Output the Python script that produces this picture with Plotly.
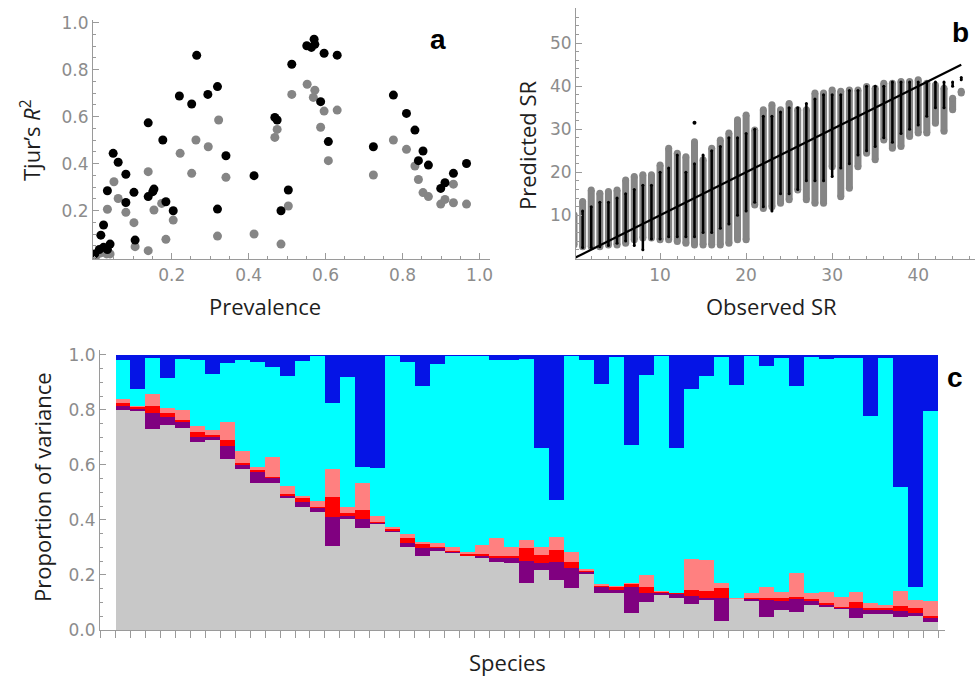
import plotly.graph_objects as go
import numpy as np

# ---------------- Panel a: Tjur's R2 vs prevalence ----------------
a_black_x = [0.0, 0.012, 0.023, 0.033, 0.04, 0.016, 0.023, 0.033, 0.048, 0.061, 0.081, 0.081,
             0.102, 0.105, 0.139, 0.139, 0.151, 0.154, 0.177, 0.185, 0.204, 0.22, 0.252, 0.265,
             0.294, 0.319, 0.319, 0.341, 0.414, 0.468, 0.474, 0.484, 0.503, 0.512, 0.551, 0.57,
             0.572, 0.563, 0.596, 0.63, 0.587, 0.607, 0.724, 0.776, 0.81, 0.832, 0.853, 0.841,
             0.867, 0.899, 0.91, 0.932, 0.966]
a_black_y = [0.016, 0.035, 0.044, 0.035, 0.058, 0.096, 0.139, 0.285, 0.444, 0.406, 0.355, 0.235,
             0.278, 0.075, 0.574, 0.26, 0.281, 0.292, 0.501, 0.238, 0.2, 0.688, 0.654, 0.861,
             0.695, 0.728, 0.207, 0.434, 0.349, 0.597, 0.586, 0.2, 0.288, 0.823, 0.902, 0.93,
             0.908, 0.895, 0.87, 0.862, 0.664, 0.494, 0.472, 0.692, 0.614, 0.543, 0.454, 0.413,
             0.394, 0.295, 0.319, 0.359, 0.401]
a_gray_x = [0.005, 0.014, 0.031, 0.04, 0.033, 0.05, 0.061, 0.081, 0.102, 0.105, 0.139, 0.139,
            0.154, 0.174, 0.185, 0.204, 0.222, 0.252, 0.263, 0.295, 0.322, 0.319, 0.341, 0.414,
            0.468, 0.474, 0.484, 0.503, 0.512, 0.552, 0.572, 0.568, 0.587, 0.596, 0.607, 0.63,
            0.724, 0.776, 0.81, 0.832, 0.841, 0.853, 0.867, 0.899, 0.91, 0.932, 0.932, 0.966]
a_gray_y = [0.011, 0.02, 0.016, 0.016, 0.206, 0.323, 0.252, 0.193, 0.149, 0.047, 0.366, 0.03,
            0.203, 0.231, 0.078, 0.16, 0.444, 0.359, 0.501, 0.472, 0.586, 0.092, 0.342, 0.101,
            0.512, 0.546, 0.058, 0.22, 0.695, 0.738, 0.713, 0.682, 0.555, 0.624, 0.413, 0.628,
            0.352, 0.501, 0.461, 0.39, 0.333, 0.277, 0.26, 0.228, 0.248, 0.313, 0.234, 0.228]
a_xticks = [0.2, 0.4, 0.6, 0.8, 1.0]
a_yticks = [0.2, 0.4, 0.6, 0.8, 1.0]

# ---------------- Panel b: predicted vs observed SR ----------------
b_obs = list(range(0, 46))
b_gray_lo = [3.1, 2.7, 2.7, 2.7, 3.1, 3.1, 3.5, 4.3, 4.7, 4.7, 4.3, 4.3, 3.9, 3.5, 3.1, 3.1,
             3.1, 3.1, 3.5, 4.3, 4.3, 12.4, 11.6, 12.0, 12.8, 13.6, 15.9, 13.6, 12.8, 12.8,
             21.3, 14.3, 16.3, 21.3, 24.4, 22.9, 27.5, 25.6, 26.0, 28.3, 29.1, 29.1, 31.4,
             29.5, 34.5, 38.4]
b_gray_hi = [10.1, 13.2, 15.9, 15.1, 15.5, 15.9, 18.2, 19.0, 19.4, 19.4, 21.7, 25.6, 24.4,
             23.6, 27.1, 22.9, 25.6, 27.5, 29.1, 32.2, 33.3, 29.8, 34.5, 35.7, 34.5, 36.0,
             34.5, 34.5, 38.4, 38.4, 39.1, 38.8, 39.1, 39.1, 39.9, 39.5, 40.7, 40.7, 41.1,
             41.1, 41.5, 40.7, 40.3, 39.5, 37.2, 38.8]
b_black_lo = [2.5, 2.5, 2.5, 2.7, 3.0, 3.5, 4.0, 3.0, 2.0, 4.5, 4.5, 5.0, 5.0, 5.0, 5.0, 6.0,
              6.0, 7.0, 8.0, 10.0, 11.0, 13.0, 12.0, 11.0, 15.0, 15.0, 16.0, 18.0, 18.0, 18.0,
              19.0, 21.0, 22.0, 24.0, 25.0, 26.0, 28.0, 27.0, 29.0, 30.0, 31.0, 33.0, 35.0,
              35.0, 40.0, 41.5]
b_black_hi = [8.0, 11.0, 12.0, 13.0, 13.0, 14.0, 15.0, 16.0, 17.0, 17.0, 20.0, 21.0, 24.0,
              20.0, 22.0, 24.0, 25.0, 26.0, 28.0, 28.0, 29.0, 30.0, 33.0, 33.0, 34.0, 35.0,
              35.0, 36.0, 37.0, 38.0, 38.0, 38.0, 39.0, 39.0, 40.0, 40.0, 40.0, 41.0, 41.0,
              41.0, 41.0, 41.0, 41.0, 41.0, 41.0, 42.0]
b_out_x = [14]
b_out_y = [31.5]
b_line_x = [0, 45]
b_line_y = [0, 45]
b_xticks = [10, 20, 30, 40]
b_yticks = [10, 20, 30, 40, 50]

# ---------------- Panel c: variance partitioning ----------------
# cumulative upper boundaries of each stacked component, per species
c_gray = [0.80, 0.797, 0.73, 0.745, 0.733, 0.682, 0.692, 0.62, 0.584, 0.534, 0.533, 0.481,
          0.448, 0.43, 0.305, 0.405, 0.37, 0.384, 0.355, 0.301, 0.27, 0.288, 0.279, 0.269,
          0.26, 0.248, 0.245, 0.172, 0.218, 0.182, 0.151, 0.203, 0.134, 0.133, 0.061, 0.101,
          0.127, 0.118, 0.095, 0.108, 0.032, 0.112, 0.107, 0.048, 0.073, 0.066, 0.091, 0.083,
          0.075, 0.044, 0.058, 0.058, 0.048, 0.05, 0.03]
c_purple_top = [0.815, 0.805, 0.79, 0.773, 0.755, 0.703, 0.70, 0.669, 0.60, 0.576, 0.553,
                0.487, 0.467, 0.442, 0.412, 0.415, 0.403, 0.388, 0.36, 0.317, 0.297, 0.297,
                0.283, 0.27, 0.269, 0.261, 0.26, 0.252, 0.245, 0.248, 0.226, 0.212, 0.155,
                0.145, 0.155, 0.133, 0.134, 0.13, 0.124, 0.118, 0.115, 0.113, 0.112, 0.108,
                0.104, 0.112, 0.105, 0.092, 0.081, 0.079, 0.073, 0.074, 0.068, 0.062, 0.044]
c_red_top = [0.825, 0.81, 0.813, 0.79, 0.762, 0.721, 0.708, 0.692, 0.606, 0.583, 0.557,
             0.495, 0.479, 0.448, 0.482, 0.427, 0.436, 0.394, 0.368, 0.333, 0.312, 0.301,
             0.289, 0.276, 0.276, 0.269, 0.268, 0.298, 0.272, 0.29, 0.248, 0.216, 0.16,
             0.155, 0.168, 0.158, 0.137, 0.133, 0.145, 0.141, 0.151, 0.114, 0.115, 0.118,
             0.115, 0.121, 0.113, 0.097, 0.085, 0.101, 0.079, 0.08, 0.087, 0.08, 0.05]
c_pink_top = [0.84, 0.815, 0.858, 0.806, 0.80, 0.743, 0.728, 0.757, 0.651, 0.594, 0.63,
              0.524, 0.487, 0.469, 0.584, 0.448, 0.533, 0.414, 0.375, 0.35, 0.321, 0.315,
              0.301, 0.284, 0.309, 0.333, 0.303, 0.327, 0.303, 0.337, 0.284, 0.222, 0.166,
              0.16, 0.17, 0.2, 0.14, 0.135, 0.259, 0.253, 0.172, 0.115, 0.136, 0.155, 0.137,
              0.206, 0.133, 0.137, 0.121, 0.137, 0.10, 0.09, 0.142, 0.11, 0.104]
c_cyan_top = [0.98, 0.876, 0.988, 0.917, 0.985, 0.98, 0.93, 0.972, 0.982, 0.975, 0.958,
              0.924, 0.978, 0.997, 0.827, 0.921, 0.592, 0.588, 0.997, 0.974, 0.888, 0.967,
              0.995, 0.998, 0.995, 0.98, 0.982, 0.985, 0.661, 0.473, 0.997, 0.982, 0.895,
              0.993, 0.674, 0.928, 0.997, 0.661, 0.877, 0.924, 0.994, 0.89, 0.997, 0.959,
              0.988, 0.888, 0.993, 0.985, 0.99, 0.99, 0.778, 0.99, 0.519, 0.158, 0.797]
c_total = 1.0
c_yticks = [0.0, 0.2, 0.4, 0.6, 0.8, 1.0]

# ---------------- figure ----------------
W, H = 977, 686
fig = go.Figure()

GRAY_PT = "#858585"
AXC = "#9a9a9a"
TICKFONT = dict(family="DejaVu Sans", size=17, color="#8c8c8c")
TITLEFONT = dict(family="Open Sans", size=22, color="#1e1e1e")

# panel a
fig.add_trace(go.Scatter(x=a_gray_x, y=a_gray_y, mode="markers", xaxis="x", yaxis="y",
                         marker=dict(color=GRAY_PT, size=9), showlegend=False))
fig.add_trace(go.Scatter(x=a_black_x, y=a_black_y, mode="markers", xaxis="x", yaxis="y",
                         marker=dict(color="black", size=9), showlegend=False))

# panel b columns
def segs(xs, lo, hi):
    X, Y = [], []
    for x, l, h in zip(xs, lo, hi):
        X += [x, x, None]
        Y += [l, h, None]
    return X, Y

gx, gy = segs(b_obs, b_gray_lo, b_gray_hi)
bx, by = segs(b_obs, b_black_lo, b_black_hi)
fig.add_trace(go.Scatter(x=gx, y=gy, mode="lines+markers", xaxis="x2", yaxis="y2",
                         line=dict(color=GRAY_PT, width=7), marker=dict(color=GRAY_PT, size=7),
                         showlegend=False))
fig.add_trace(go.Scatter(x=bx, y=by, mode="lines+markers", xaxis="x2", yaxis="y2",
                         line=dict(color="black", width=2.5), marker=dict(color="black", size=3),
                         showlegend=False))
fig.add_trace(go.Scatter(x=b_out_x, y=b_out_y, mode="markers", xaxis="x2", yaxis="y2",
                         marker=dict(color="black", size=4), showlegend=False))
fig.add_trace(go.Scatter(x=b_line_x, y=b_line_y, mode="lines", xaxis="x2", yaxis="y2",
                         line=dict(color="black", width=2.2), showlegend=False))

# panel c stacked bars
g = np.array(c_gray)
p = np.array(c_purple_top)
r = np.array(c_red_top)
k = np.array(c_pink_top)
c = np.array(c_cyan_top)
comps = [
    (g, "#c8c8c8"),
    (p - g, "#800080"),
    (r - p, "#ff0000"),
    (k - r, "#ff8080"),
    (c - k, "#00ffff"),
    (c_total - c, "#0514e6"),
]
idx = list(range(len(c_gray)))
for vals, col in comps:
    fig.add_trace(go.Bar(x=idx, y=np.clip(vals, 0, None), marker=dict(color=col, line=dict(width=0)),
                         width=1.0, xaxis="x3", yaxis="y3", showlegend=False))

def px_dom_x(a, b):
    return [a / W, b / W]

def px_dom_y(top, bottom):
    return [1 - bottom / H, 1 - top / H]

common = dict(showgrid=False, zeroline=False, showline=True, linecolor=AXC, linewidth=1,
              tickcolor=AXC, tickfont=TICKFONT, automargin=False)

fig.update_layout(
    template="none",
    width=W, height=H, autosize=False, margin=dict(l=0, r=0, t=0, b=0, pad=0),
    paper_bgcolor="white", plot_bgcolor="white",
    barmode="stack", bargap=0, showlegend=False,
    xaxis=dict(domain=px_dom_x(93, 490), range=[-0.0044, 1.027], anchor="y",
               tickmode="array", tickvals=a_xticks, ticktext=[f"{v:.1f}" for v in a_xticks],
               ticks="inside", ticklen=6,
               minor=dict(dtick=0.05, tick0=0, ticks="inside", ticklen=3, tickcolor=AXC),
               **common),
    yaxis=dict(domain=px_dom_y(20, 259.3), range=[-0.0068, 1.0115], anchor="x",
               tickmode="array", tickvals=a_yticks, ticktext=[f"{v:.1f}" for v in a_yticks],
               ticks="inside", ticklen=6,
               minor=dict(dtick=0.05, tick0=0, ticks="inside", ticklen=3, tickcolor=AXC),
               **common),
    xaxis2=dict(domain=px_dom_x(576, 975), range=[0.23, 46.6], anchor="y2",
                tickmode="array", tickvals=b_xticks, ticks="inside", ticklen=6,
                minor=dict(dtick=2, tick0=0, ticks="inside", ticklen=3, tickcolor=AXC),
                **common),
    yaxis2=dict(domain=px_dom_y(8.3, 259.3), range=[-0.23, 58.1], anchor="x2",
                tickmode="array", tickvals=b_yticks, ticks="inside", ticklen=6,
                minor=dict(dtick=2, tick0=0, ticks="inside", ticklen=3, tickcolor=AXC),
                **common),
    xaxis3=dict(domain=px_dom_x(100, 945), range=[-1.536, 54.95], anchor="y3",
                tickmode="linear", tick0=-0.5, dtick=1, ticks="outside", ticklen=7,
                showticklabels=False, **common),
    yaxis3=dict(domain=px_dom_y(350, 630), range=[0, 1.018], anchor="x3",
                tickmode="array", tickvals=c_yticks, ticktext=[f"{v:.1f}" for v in c_yticks],
                ticks="inside", ticklen=6,
                minor=dict(dtick=0.05, tick0=0, ticks="inside", ticklen=3, tickcolor=AXC),
                **common),
)

def ann(text, x, y, font, angle=0):
    fig.add_annotation(text=text, x=x / W, y=1 - y / H, xref="paper", yref="paper",
                       showarrow=False, font=font, textangle=angle,
                       xanchor="center", yanchor="middle")

ann("Prevalence", 265, 306, TITLEFONT)
ann("Tjur’s <i>R</i><sup>2</sup>", 30, 140, TITLEFONT, angle=-90)
ann("Observed SR", 771, 306, TITLEFONT)
ann("Predicted SR", 527, 145, TITLEFONT, angle=-90)
ann("Species", 507, 662, TITLEFONT)
ann("Proportion of variance", 42, 487, TITLEFONT, angle=-90)

LET = dict(family="Liberation Sans", size=28, color="black")
ann("<b>a</b>", 438, 40, LET)
ann("<b>b</b>", 960, 33, LET)
ann("<b>c</b>", 955, 378, LET)

fig.write_html(
    "out.html",
    config={"displayModeBar": False, "staticPlot": True},
    post_script="document.body.style.margin='0px';document.body.style.overflow='hidden';",
)
